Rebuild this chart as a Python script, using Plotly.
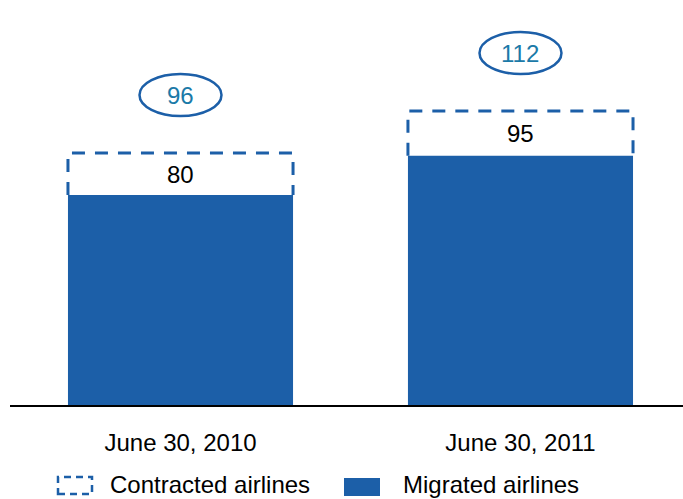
import plotly.graph_objects as go

# Data
periods = ["June 30, 2010", "June 30, 2011"]
migrated = [80, 95]          # migrated airlines
contracted = [96, 112]       # contracted airlines (total)
legend_names = ["Contracted airlines", "Migrated airlines"]

BLUE = "#1c5fa8"
TEAL = "#1b7aa8"
FONT = "Liberation Sans, Arial, Helvetica, sans-serif"

BAR_W = 0.662
xs = list(range(len(periods)))

# plot-area geometry used for the hand-drawn legend (pixels)
ML, MT, PW, PH = 10, 0, 673, 405


def px_x(x):
    return (x - ML) / PW


def px_y(y):
    return (MT + PH - y) / PH


fig = go.Figure()

# solid bars: migrated airlines
fig.add_trace(go.Bar(
    x=xs, y=migrated, width=BAR_W,
    marker=dict(color=BLUE, line=dict(width=0)),
    hoverinfo="skip", showlegend=False,
))

# dashed outline: contracted airlines stacked on top of migrated
ox, oy = [], []
for i, (m, c) in enumerate(zip(migrated, contracted)):
    ox += [i - BAR_W / 2, i - BAR_W / 2, i + BAR_W / 2, i + BAR_W / 2, None]
    oy += [m, c, c, m, None]
fig.add_trace(go.Scatter(
    x=ox, y=oy, mode="lines",
    line=dict(color=BLUE, width=3, dash="13px,10px"),
    hoverinfo="skip", showlegend=False,
))

annotations = []
shapes = []
for i, (m, c) in enumerate(zip(migrated, contracted)):
    # migrated count, placed inside the dashed region
    annotations.append(dict(
        x=i, y=(m + c) / 2, xref="x", yref="y", text=str(m),
        showarrow=False, font=dict(family=FONT, size=24, color="#000000"),
    ))
    # contracted total in an ellipse above the bar
    shapes.append(dict(
        type="circle", xref="x", yref="y",
        xsizemode="pixel", ysizemode="pixel",
        xanchor=i, yanchor=c,
        x0=-41, x1=41, y0=37, y1=79,
        line=dict(color=BLUE, width=2.5), fillcolor="rgba(0,0,0,0)",
    ))
    annotations.append(dict(
        x=i, y=c, xref="x", yref="y", yshift=58, text=str(c),
        showarrow=False, font=dict(family=FONT, size=24, color=TEAL),
    ))

# legend drawn by hand below the axis
shapes.append(dict(
    type="rect", xref="paper", yref="paper",
    x0=px_x(58), x1=px_x(92), y0=px_y(494), y1=px_y(477),
    line=dict(color=BLUE, width=2.5, dash="7px,5px"), fillcolor="rgba(0,0,0,0)",
))
shapes.append(dict(
    type="rect", xref="paper", yref="paper",
    x0=px_x(344), x1=px_x(380), y0=px_y(496), y1=px_y(478),
    line=dict(width=0), fillcolor=BLUE,
))
for name, lx in zip(legend_names, [108, 401]):
    annotations.append(dict(
        x=px_x(lx), y=px_y(484), xref="paper", yref="paper",
        xanchor="left", yanchor="middle", text=name, showarrow=False,
        font=dict(family=FONT, size=24, color="#000000"),
    ))

fig.update_layout(
    width=683, height=499,
    margin=dict(l=ML, r=0, t=MT, b=499 - PH - MT),
    paper_bgcolor="white", plot_bgcolor="white",
    showlegend=False,
    shapes=shapes, annotations=annotations,
    font=dict(family=FONT, size=24, color="#000000"),
)
fig.update_xaxes(
    range=[-0.5015, 1.478], tickvals=xs, ticktext=periods,
    showgrid=False, zeroline=False, showline=True,
    linecolor="#000000", linewidth=2, ticks="",
    ticklabelstandoff=15,
    tickfont=dict(family=FONT, size=24, color="#000000"),
)
fig.update_yaxes(
    range=[0, 154.3], visible=False, showgrid=False, zeroline=False,
)

fig.write_html("out.html")
